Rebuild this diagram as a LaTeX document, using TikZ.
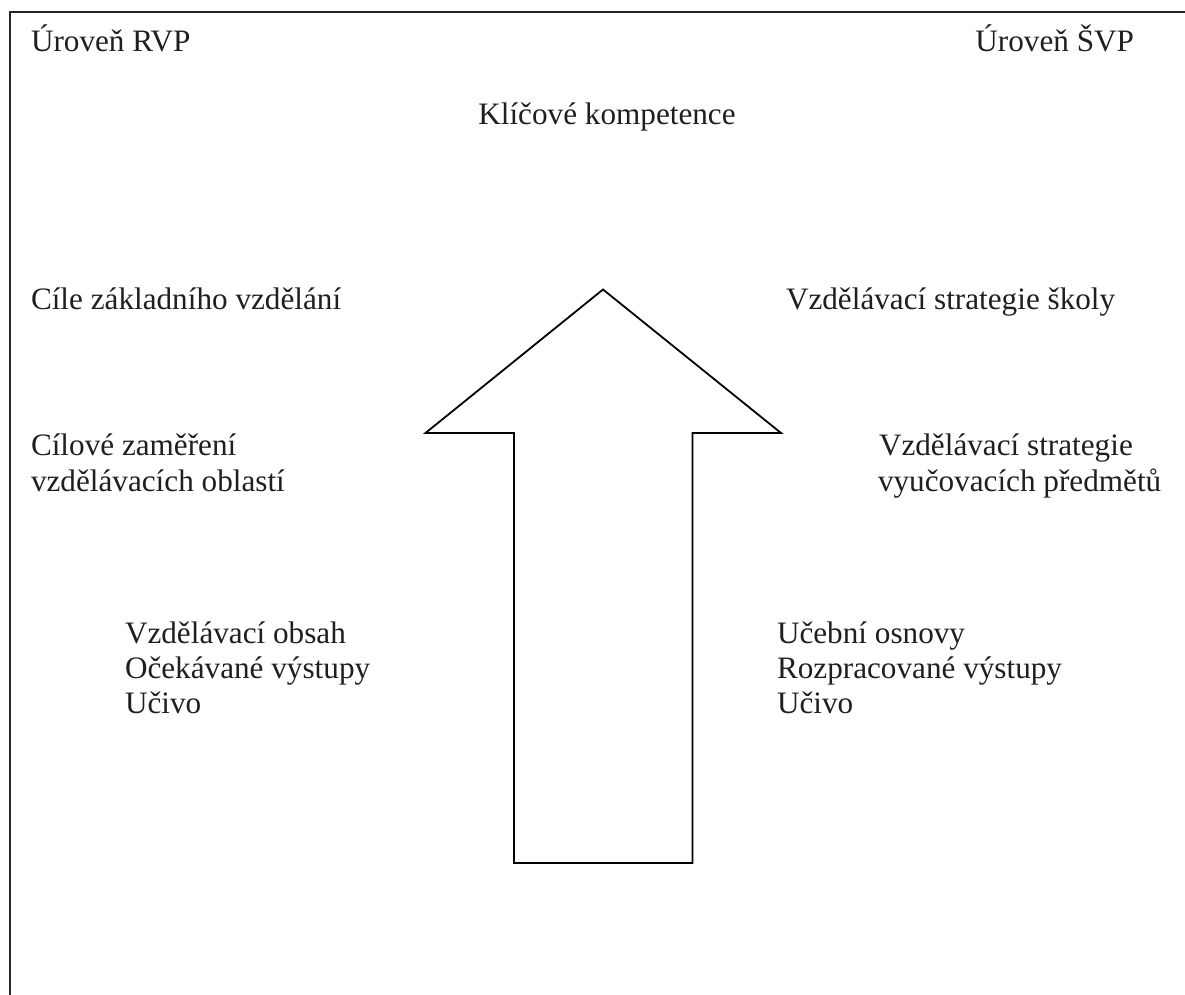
\documentclass[tikz,border=0pt]{standalone}
\usepackage{fontspec}
\setmainfont{Liberation Serif}
\begin{document}
\begin{tikzpicture}[x=1pt,y=-1pt,
  lbl/.style={inner sep=0pt,outer sep=0pt,font=\fontsize{31.2}{35.5}\selectfont,text=black!88,align=left},
  frame/.style={line width=2pt,black!85},
  arrowshape/.style={line width=1.8pt,black,line join=miter}]
\useasboundingbox (0,0) rectangle (1185,995);
\draw[frame] (1185,12) -- (9.5,12) -- (9.5,995);
\node[lbl,anchor=base west] (rvp) at (31,52) {Úroveň RVP};
\node[lbl,anchor=base east] (svp) at (1134,52) {Úroveň ŠVP};
\node[lbl,anchor=base] (kk) at (607,125) {Klíčové kompetence};
\node[lbl,anchor=base west] (cile) at (31,309) {Cíle základního vzdělání};
\node[lbl,anchor=base west] (strat) at (786,309) {Vzdělávací strategie školy};
\node[lbl,anchor=base west] (zam1) at (31,455) {Cílové zaměření};
\node[lbl,anchor=base west] (zam2) at (31,491) {vzdělávacích oblastí};
\node[lbl,anchor=base west] (vs1) at (879,455) {Vzdělávací strategie};
\node[lbl,anchor=base west] (vs2) at (878,491) {vyučovacích předmětů};
\node[lbl,anchor=base west] (l1) at (125,643) {Vzdělávací obsah};
\node[lbl,anchor=base west] (l2) at (125,678) {Očekávané výstupy};
\node[lbl,anchor=base west] (l3) at (125,713) {Učivo};
\node[lbl,anchor=base west] (r1) at (777,643) {Učební osnovy};
\node[lbl,anchor=base west] (r2) at (777,678) {Rozpracované výstupy};
\node[lbl,anchor=base west] (r3) at (777,713) {Učivo};
\draw[arrowshape] (603,289.5) -- (781,433) -- (692.5,433) -- (692.5,863) -- (514,863) -- (514,433) -- (425.5,433) -- cycle;
\end{tikzpicture}
\end{document}
